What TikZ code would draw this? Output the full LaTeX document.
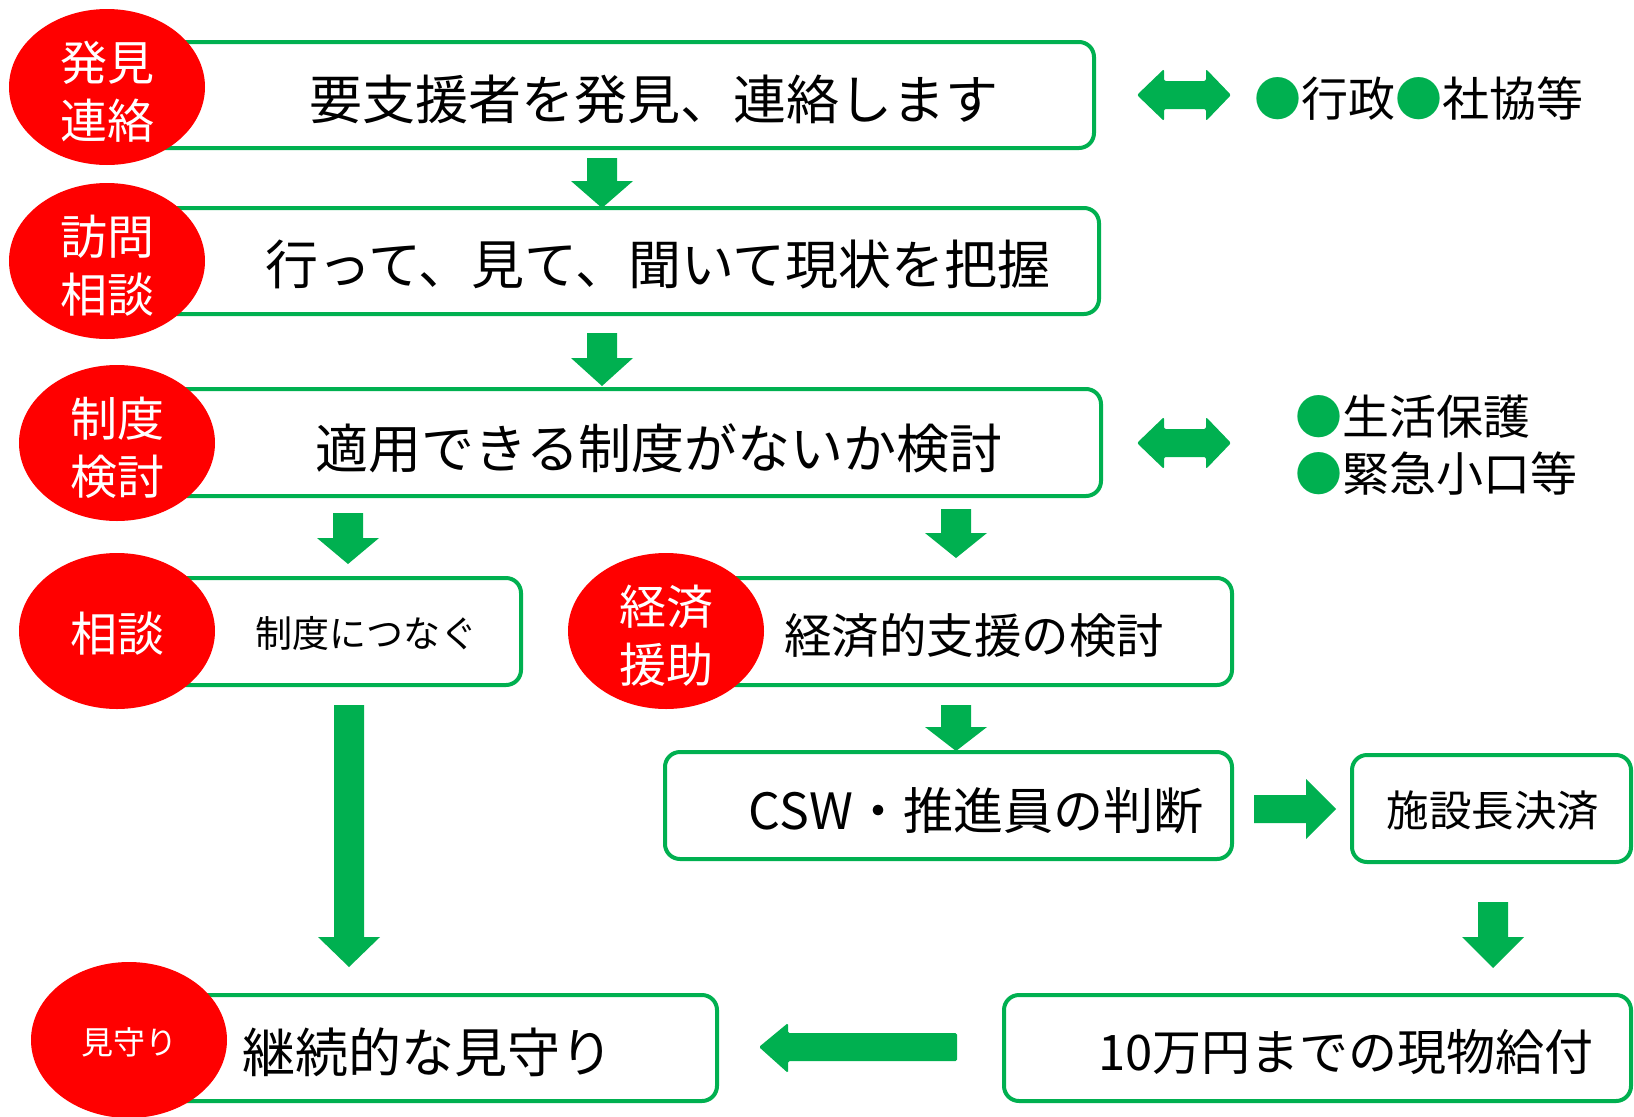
\documentclass[tikz,border=0pt]{standalone}
\usepackage{fontspec}
\setmainfont{Noto Sans CJK JP}
\usetikzlibrary{shapes.geometric}
\definecolor{ogreen}{RGB}{0,176,80}
\definecolor{ored}{RGB}{255,0,0}
\newcommand{\fs}[1]{\fontsize{#1}{#1}\selectfont}
% down block arrow: cx, ytop, yhead, ytip
\newcommand{\DArr}[4]{\fill[ogreen] (#1-15,#2) -- (#1+15,#2) -- (#1+15,#3) -- (#1+31,#3) -- (#1,#4) -- (#1-31,#3) -- (#1-15,#3) -- cycle;}
% double block arrow: cy
\newcommand{\LRArr}[1]{\fill[ogreen,rounded corners=2pt] (1137,#1) -- (1164,#1-26) -- (1164,#1-14) -- (1206,#1-14) -- (1206,#1-26) -- (1231,#1) -- (1206,#1+26) -- (1206,#1+14) -- (1164,#1+14) -- (1164,#1+26) -- cycle;}
\begin{document}
\begin{tikzpicture}[x=1pt,y=-1pt,
  box/.style={draw=ogreen, line width=4pt, rounded corners=15pt, fill=white, inner sep=0pt},
  oval/.style={ellipse, fill=ored, minimum width=196pt, minimum height=156pt, inner sep=0pt},
  otext/.style={text=white, align=center, inner sep=0pt, yshift=-5pt, font=\fontsize{47}{58}\selectfont},
  btext/.style={text=black, inner sep=0pt}]
\useasboundingbox (0,0) rectangle (1634,1117);
\fill[white] (0,0) rectangle (1634,1117);
% boxes
\node[box, minimum width=974pt, minimum height=106pt] (b1) at (607,95) {};
\node[box, minimum width=979pt, minimum height=106pt] (b2) at (609.5,261) {};
\node[box, minimum width=971pt, minimum height=107pt] (b3) at (615.5,442.5) {};
\node[box, minimum width=391pt, minimum height=107pt] (b4) at (325.5,631.5) {};
\node[box, minimum width=552pt, minimum height=107pt] (b5) at (956,631.5) {};
\node[box, minimum width=567pt, minimum height=107pt] (b6) at (948.5,805.5) {};
\node[box, minimum width=279pt, minimum height=107pt] (b7) at (1491.5,808.5) {};
\node[box, minimum width=577pt, minimum height=106pt] (b8) at (428.5,1048) {};
\node[box, minimum width=627pt, minimum height=106pt] (b10) at (1317.5,1048) {};
% ellipses
\node[oval] (e1) at (107,87) {};
\node[oval] (e2) at (107,261) {};
\node[oval] (e3) at (117,443) {};
\node[oval] (e4) at (117,631) {};
\node[oval] (e5) at (666,631) {};
\node[oval] (e6) at (129,1040) {};
\node[otext] (o1) at (e1.center) {発見\\連絡};
\node[otext] (o2) at (e2.center) {訪問\\相談};
\node[otext] (o3) at (e3.center) {制度\\検討};
\node[otext, yshift=2pt] (o4) at (e4.center) {相談};
\node[otext] (o5) at (e5.center) {経済\\援助};
\node[otext, font=\fs{32}, yshift=3pt] (o6) at (e6.center) {見守り};
% box texts
\node[btext, font=\fs{53}] (t1) at (654,99) {要支援者を発見、連絡します};
\node[btext, font=\fs{53}] (t2) at (658,264) {行って、見て、聞いて現状を把握};
\node[btext, font=\fs{53}] (t3) at (659,448) {適用できる制度がないか検討};
\node[btext, font=\fs{37}] (t4) at (366,633) {制度につなぐ};
\node[btext, font=\fs{47.5}] (t5) at (974,636) {経済的支援の検討};
\node[btext, font=\fs{50}] (t6) at (976,811) {CSW・推進員の判断};
\node[btext, font=\fs{42.5}] (t7) at (1493,811) {施設長決済};
\node[btext, font=\fs{53}] (t8) at (428,1052) {継続的な見守り};
\node[btext, font=\fs{49}] (t10) at (1346,1052) {10万円までの現物給付};
% side texts
\node[btext, font=\fs{47}] (s1) at (1419,99) {{\color{ogreen}●}行政{\color{ogreen}●}社協等};
\node[btext, font=\fs{47}, anchor=west] (s2) at (1295,417) {{\color{ogreen}●}生活保護};
\node[btext, font=\fs{47}, anchor=west] (s3) at (1295,474) {{\color{ogreen}●}緊急小口等};
% arrows
\DArr{602}{158}{181}{208}
\DArr{602}{333}{358}{386}
\DArr{348}{513}{538}{564}
\DArr{956}{509}{533}{558}
\DArr{956}{705}{727}{751}
\DArr{349}{705}{937}{967}
\DArr{1493}{902}{937}{968}
\fill[ogreen] (1254,795) -- (1306,795) -- (1306,779) -- (1336,809) -- (1306,839) -- (1306,823) -- (1254,823) -- cycle;
\fill[ogreen,rounded corners=1.5pt] (957,1033) -- (788,1033) -- (788,1023) -- (759,1047) -- (788,1073) -- (788,1061) -- (957,1061) -- cycle;
\LRArr{95}
\LRArr{443}
\end{tikzpicture}
\end{document}
